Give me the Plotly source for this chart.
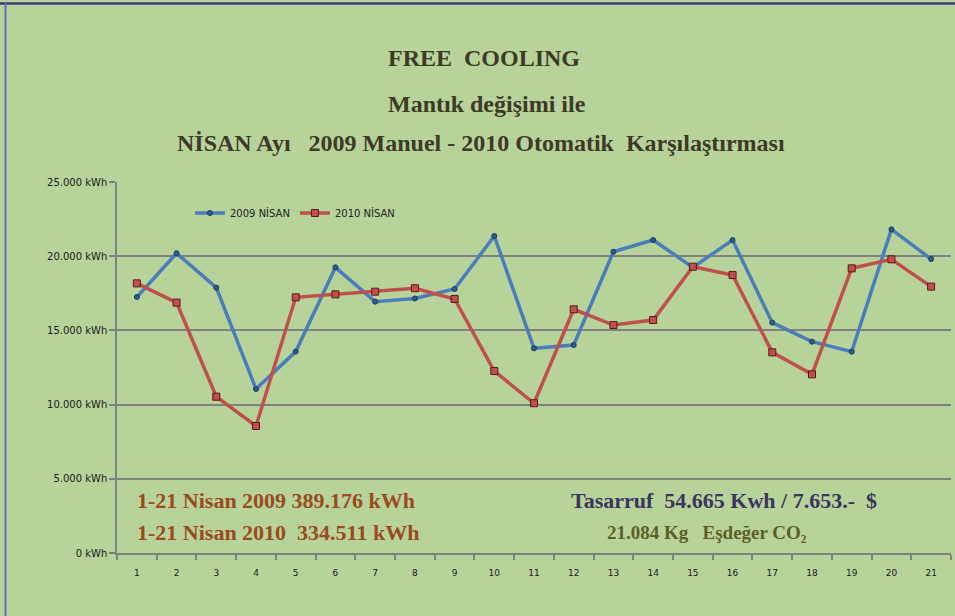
import plotly.graph_objects as go

days = list(range(1, 22))
nisan_2009 = [17250, 20200, 17880, 11050, 13570, 19250, 16935, 17150, 17790, 21360, 13790,
              14015, 20300, 21090, 19250, 21090, 15520, 14240, 13565, 21810, 19810]
nisan_2010 = [18170, 16870, 10530, 8560, 17230, 17430, 17610, 17840, 17120, 12260, 10090,
              16420, 15360, 15700, 19290, 18730, 13520, 12040, 19180, 19790, 17950]
y_ticks = [0, 5000, 10000, 15000, 20000, 25000]
y_tick_labels = ["0 kWh", "5.000 kWh", "10.000 kWh", "15.000 kWh", "20.000 kWh", "25.000 kWh"]

BG = "#b7d39a"
W, H = 955, 616
L, R, T, B = 117, 4, 182, 63

fig = go.Figure()
fig.add_trace(go.Scatter(
    x=days, y=nisan_2009, name="2009 NİSAN", mode="lines+markers",
    line=dict(color="#4a7ebb", width=3.5),
    marker=dict(symbol="circle", size=5, color="#2f5c8f", line=dict(color="#1d3b5c", width=1)),
))
fig.add_trace(go.Scatter(
    x=days, y=nisan_2010, name="2010 NİSAN", mode="lines+markers",
    line=dict(color="#c0504d", width=3.5),
    marker=dict(symbol="square", size=7, color="#c0504d", line=dict(color="#5a1a18", width=1)),
))

pw = W - L - R
ph = H - T - B

def px_x(x):
    return (x - L) / pw

def px_y(y):
    return (H - B - y) / ph

serif = "Liberation Serif"
title_col = "#3d3a26"
annos = [
    dict(text="<b>FREE  COOLING</b>", x=px_x(484), y=px_y(58), size=24, color=title_col),
    dict(text="<b>Mantık değişimi ile</b>", x=px_x(487), y=px_y(104), size=24, color=title_col),
    dict(text="<b>NİSAN Ayı   2009 Manuel - 2010 Otomatik  Karşılaştırması</b>", x=px_x(481), y=px_y(143), size=24, color=title_col),
    dict(text="<b>1-21 Nisan 2009 389.176 kWh</b>", x=px_x(276), y=px_y(500), size=22, color="#9c4a1e"),
    dict(text="<b>1-21 Nisan 2010  334.511 kWh</b>", x=px_x(278), y=px_y(532), size=22, color="#9c4a1e"),
    dict(text="<b>Tasarruf  54.665 Kwh / 7.653.-  $</b>", x=px_x(724), y=px_y(500), size=22, color="#3b3560"),
    dict(text="<b>21.084 Kg   Eşdeğer CO₂</b>", x=px_x(707), y=px_y(532), size=19, color="#5e5e26"),
]
for a in annos:
    fig.add_annotation(text=a["text"], x=a["x"], y=a["y"], xref="paper", yref="paper",
                       showarrow=False, xanchor="center", yanchor="middle",
                       font=dict(family=serif, size=a["size"], color=a["color"]))

# frame lines (top and left)
fig.add_shape(type="line", xref="paper", yref="paper", x0=px_x(0), x1=px_x(W), y0=px_y(3.5), y1=px_y(3.5),
              line=dict(color="#3a3a7a", width=2.5))
fig.add_shape(type="line", xref="paper", yref="paper", x0=px_x(5.5), x1=px_x(5.5), y0=px_y(3), y1=px_y(H),
              line=dict(color="#6b6bbf", width=2))

sans = "DejaVu Sans"
fig.update_layout(
    width=W, height=H,
    margin=dict(l=L, r=R, t=T, b=B, autoexpand=False),
    paper_bgcolor=BG, plot_bgcolor=BG,
    showlegend=True,
    legend=dict(orientation="h", x=px_x(190), y=px_y(213), xanchor="left", yanchor="middle",
                bgcolor="rgba(0,0,0,0)", font=dict(family=sans, size=10, color="#222"),
                itemwidth=30, tracegroupgap=0),
    font=dict(family=sans, size=9, color="#1a1a1a"),
)
fig.update_xaxes(
    range=[0.5, 21.5], tickmode="array", tickvals=days, ticktext=[str(d) for d in days],
    ticks="", showgrid=False, zeroline=False,
    showline=True, linecolor="#808080", linewidth=1.5,
    tickfont=dict(family=sans, size=9, color="#1a1a1a"),
    ticklabelstandoff=10,
    minor=dict(ticks="outside", tick0=0.5, dtick=1, ticklen=5, tickcolor="#808080", tickwidth=1.5, showgrid=False),
)
fig.update_yaxes(
    range=[0, 25000], tickmode="array", tickvals=y_ticks, ticktext=y_tick_labels,
    showgrid=True, gridcolor="#808080", gridwidth=1.5, zeroline=False,
    showline=True, linecolor="#808080", linewidth=1.5,
    ticks="outside", ticklen=6, tickcolor="#808080", tickwidth=1.5,
    tickfont=dict(family=sans, size=10, color="#1a1a1a"),
)

fig.write_html("out.html", config={"displayModeBar": False},
               post_script="document.body.style.margin='0';document.body.style.background='" + BG + "';")
